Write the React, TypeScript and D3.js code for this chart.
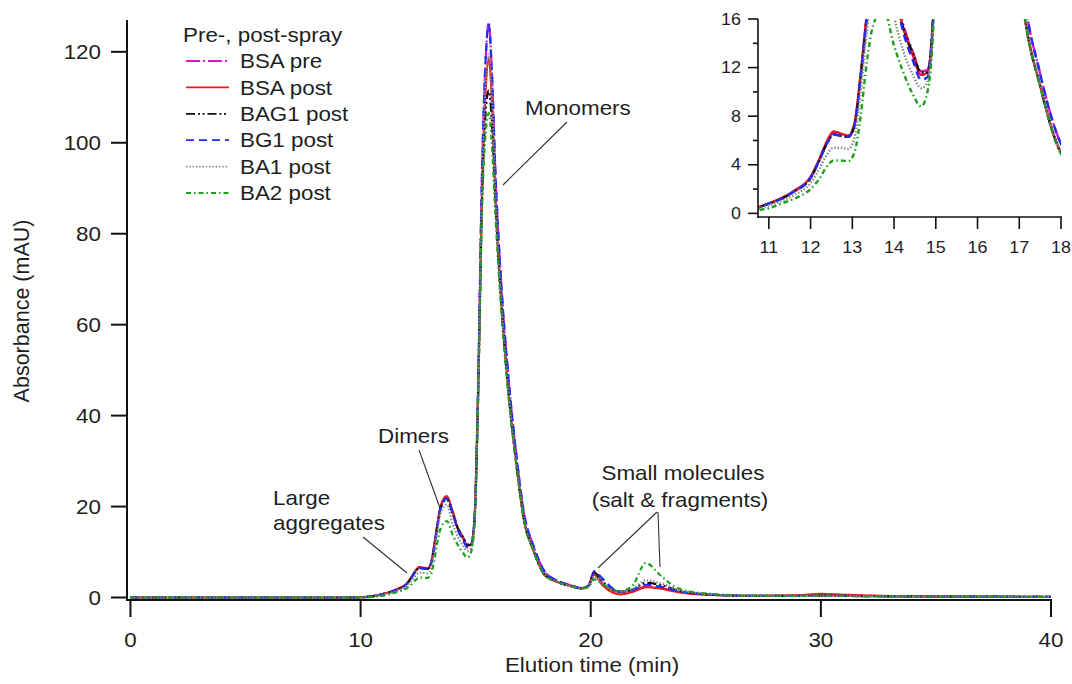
import React from "react";
import * as d3 from "d3";

// Elution time grid (min)
const time = [0, 5, 9, 10, 10.5, 10.8, 11, 11.3, 11.6, 12, 12.2, 12.4, 12.55, 12.7, 12.9, 13.05, 13.2, 13.35, 13.5, 13.75, 14.0, 14.2, 14.45, 14.65, 14.8, 14.95, 15.1, 15.27, 15.45, 15.57, 15.7, 15.87, 16.1, 16.45, 16.8, 17.1, 17.5, 18.0, 18.5, 19.0, 19.6, 19.9, 20.15, 20.5, 21.0, 21.3, 21.8, 22.4, 23.0, 23.8, 25.0, 27, 29, 30, 31, 33, 36, 40];

const bsaPre = [0, 0, 0, 0.05, 0.25, 0.55, 0.8, 1.2, 1.8, 2.95, 4.3, 5.9, 6.6, 6.5, 6.3, 7.3, 11.3, 16.3, 20.3, 22.0, 19.0, 15.8, 13.3, 11.7, 11.8, 17.5, 45, 92, 120, 126.5, 116, 92, 70, 47, 30, 18.5, 11.5, 5.7, 3.8, 2.9, 2.1, 2.6, 5.6, 3.2, 1.5, 1.2, 1.4, 2.4, 2.1, 1.3, 0.7, 0.35, 0.35, 0.45, 0.4, 0.25, 0.2, 0.15];
const bsaPost = [0, 0, 0, 0.05, 0.25, 0.55, 0.82, 1.25, 1.85, 3.0, 4.4, 6.0, 6.75, 6.6, 6.4, 7.4, 11.5, 16.5, 20.5, 22.3, 18.8, 15.5, 13.0, 11.4, 11.6, 17, 43, 87, 113, 118.5, 110, 87, 66, 44, 28, 17, 10.5, 5.0, 3.5, 2.7, 2.0, 2.6, 5.0, 2.8, 1.0, 0.7, 1.2, 2.3, 2.0, 1.2, 0.6, 0.35, 0.45, 0.8, 0.6, 0.3, 0.2, 0.15];
const bag1Post = [0, 0, 0, 0.05, 0.25, 0.55, 0.8, 1.2, 1.8, 2.9, 4.3, 5.8, 6.5, 6.4, 6.3, 7.2, 11.2, 16.2, 20.0, 21.5, 18.5, 15.5, 13.2, 11.6, 11.6, 17, 43, 86, 108, 111.5, 105, 86, 66, 44, 28, 17, 10.5, 5.0, 3.5, 2.7, 2.0, 2.5, 5.5, 3.6, 1.6, 1.3, 1.7, 3.2, 2.8, 1.5, 0.7, 0.35, 0.35, 0.4, 0.35, 0.25, 0.2, 0.15];
const bg1Post = [0, 0, 0, 0.05, 0.25, 0.55, 0.8, 1.2, 1.8, 2.95, 4.3, 5.8, 6.5, 6.4, 6.3, 7.2, 11.2, 16.2, 20.2, 21.8, 18.6, 15.2, 12.6, 11.0, 11.2, 17.3, 45, 92, 120, 126, 116, 92, 70, 47, 30, 18.5, 11.5, 5.7, 3.8, 2.9, 2.1, 2.5, 5.8, 4.2, 1.8, 1.3, 1.6, 2.8, 2.4, 1.4, 0.7, 0.35, 0.35, 0.4, 0.35, 0.25, 0.2, 0.15];
const ba1Post = [0, 0, 0, 0.04, 0.2, 0.45, 0.65, 1.0, 1.5, 2.5, 3.6, 4.9, 5.4, 5.4, 5.3, 6.2, 10.0, 15.0, 18.8, 20.4, 16.2, 13.6, 11.4, 10.3, 10.8, 16.5, 43, 88, 114, 119.5, 111, 87, 66, 44, 28, 17, 10.5, 5.0, 3.5, 2.7, 2.0, 2.4, 4.6, 3.2, 1.6, 1.3, 1.8, 3.8, 3.2, 1.7, 0.8, 0.35, 0.35, 0.4, 0.35, 0.25, 0.2, 0.15];
const ba2Post = [0, 0, 0, 0.03, 0.15, 0.3, 0.42, 0.8, 1.2, 2.0, 2.8, 3.9, 4.35, 4.35, 4.3, 5.0, 8.0, 12.5, 15.5, 16.8, 13.8, 11.8, 9.8, 8.8, 10.0, 16, 41, 84, 103, 106.5, 100, 83, 64, 43, 28, 17, 10.5, 4.9, 3.5, 2.7, 2.0, 2.3, 4.0, 3.0, 1.6, 1.4, 2.5, 7.6, 5.0, 2.0, 0.9, 0.4, 0.35, 0.4, 0.35, 0.25, 0.2, 0.15];

const seriesNames = ["BSA pre", "BSA post", "BAG1 post", "BG1 post", "BA1 post", "BA2 post"];
const seriesValues = [bsaPre, bsaPost, bag1Post, bg1Post, ba1Post, ba2Post];
const seriesColors = ["#d21cc4", "#f01818", "#111111", "#1f2cf5", "#8a8a8a", "#1e9e1e"];
const seriesDash = ["14 3 2 3", "", "9 3 2 2.5 2 3", "8 5", "1.5 1.8", "5 3 1.5 3"];

const mainXTicks = [0, 10, 20, 30, 40];
const mainYTicks = [0, 20, 40, 60, 80, 100, 120];
const insetXTicks = [11, 12, 13, 14, 15, 16, 17, 18];
const insetYTicks = [0, 4, 8, 12, 16];
const insetYMinor = [2, 6, 10, 14];

const FONT = "'Liberation Sans', Arial, sans-serif";
const SX = 1.12;
const TXT = "#1e1e1e";

function Txt({ x, y, size, anchor = "start", children }: any) {
  return (
    <text
      transform={`translate(${x},${y}) scale(${SX},1)`}
      fontSize={size}
      textAnchor={anchor}
      fontFamily={FONT}
      fill={TXT}
    >
      {children}
    </text>
  );
}

export default function App() {
  const x = d3.scaleLinear().domain([-0.15, 40]).range([127, 1051]);
  const y = d3.scaleLinear().domain([-0.55, 127]).range([600, 20]);
  const xi = d3.scaleLinear().domain([10.74, 18]).range([758, 1061]);
  const yi = d3.scaleLinear().domain([-0.3, 16]).range([217, 19]);

  const series = seriesNames.map((name, k) => ({
    name,
    color: seriesColors[k],
    dash: seriesDash[k],
    pts: time.map((t, i) => [t, seriesValues[k][i]] as [number, number]),
  }));

  const mainLine = d3
    .line<[number, number]>()
    .x((d) => x(d[0]))
    .y((d) => y(d[1]))
    .curve(d3.curveMonotoneX);
  const insetLine = d3
    .line<[number, number]>()
    .x((d) => xi(d[0]))
    .y((d) => yi(d[1]))
    .curve(d3.curveMonotoneX);

  const legendX0 = 186;
  const legendX1 = 229;
  const legendTop = 61;
  const legendStep = 26.4;

  return (
    <svg
      width={1072}
      height={684}
      style={{ position: "absolute", left: 0, top: 0, background: "#fff" }}
    >
      <defs>
        <clipPath id="insetClip">
          <rect x={758} y={yi(16)} width={1061 - 758} height={217 - yi(16)} />
        </clipPath>
      </defs>

      {/* main data */}
      <g fill="none">
        {series.map((s) => (
          <path
            key={s.name}
            d={mainLine(s.pts) || ""}
            stroke={s.color}
            strokeWidth={2.2}
            strokeDasharray={s.dash || undefined}
          />
        ))}
      </g>

      {/* main axes */}
      <g stroke="#111" strokeWidth={2} fill="none">
        <line x1={127} y1={20} x2={127} y2={601} />
        <line x1={126} y1={600} x2={1052} y2={600} />
        {mainYTicks.map((v) => (
          <line key={"yt" + v} x1={111} x2={127} y1={y(v)} y2={y(v)} />
        ))}
        {mainXTicks.map((v) => (
          <line key={"xt" + v} x1={x(v)} x2={x(v)} y1={600} y2={617} />
        ))}
      </g>
      {mainYTicks.map((v) => (
        <Txt key={"yl" + v} x={101} y={y(v) + 7.2} size={20} anchor="end">
          {v}
        </Txt>
      ))}
      {mainXTicks.map((v) => (
        <Txt key={"xl" + v} x={x(v)} y={647} size={20} anchor="middle">
          {v}
        </Txt>
      ))}
      <Txt x={592} y={672} size={20} anchor="middle">
        Elution time (min)
      </Txt>
      <text
        transform="translate(29,311) rotate(-90)"
        fontSize={21.5}
        textAnchor="middle"
        fontFamily={FONT}
        fill={TXT}
      >
        Absorbance (mAU)
      </text>

      {/* legend */}
      <Txt x={183} y={42} size={20}>
        Pre-, post-spray
      </Txt>
      {series.map((s, k) => {
        const cy = legendTop + k * legendStep;
        return (
          <g key={"lg" + s.name}>
            <line
              x1={legendX0}
              x2={legendX1}
              y1={cy}
              y2={cy}
              stroke={s.color}
              strokeWidth={1.8}
              strokeDasharray={s.dash || undefined}
            />
            <Txt x={240} y={cy + 7.2} size={20}>
              {s.name}
            </Txt>
          </g>
        );
      })}

      {/* annotations */}
      <g stroke="#333" strokeWidth={1.1}>
        <line x1={363} y1={537} x2={407} y2={573} />
        <line x1={419} y1={450} x2={440} y2={508} />
        <line x1={567} y1={122} x2={503} y2={185} />
        <line x1={657} y1={512} x2={598} y2={568} />
        <line x1={658} y1={512} x2={660} y2={567} />
      </g>
      <Txt x={273} y={505} size={20}>
        Large
      </Txt>
      <Txt x={273} y={530} size={20}>
        aggregates
      </Txt>
      <Txt x={378} y={443} size={20}>
        Dimers
      </Txt>
      <Txt x={525} y={115} size={20}>
        Monomers
      </Txt>
      <Txt x={683} y={480} size={20} anchor="middle">
        Small molecules
      </Txt>
      <Txt x={680} y={507} size={20} anchor="middle">
        (salt &amp; fragments)
      </Txt>

      {/* inset */}
      <g fill="none" clipPath="url(#insetClip)">
        {series.map((s) => (
          <path
            key={"in" + s.name}
            d={insetLine(s.pts) || ""}
            stroke={s.color}
            strokeWidth={2.4}
            strokeDasharray={s.dash || undefined}
          />
        ))}
      </g>
      <g stroke="#111" strokeWidth={1.6} fill="none">
        <line x1={758} y1={yi(16)} x2={758} y2={218} />
        <line x1={757} y1={217} x2={1062} y2={217} />
        {insetYTicks.map((v) => (
          <line key={"iyt" + v} x1={748} x2={758} y1={yi(v)} y2={yi(v)} />
        ))}
        {insetYMinor.map((v) => (
          <line key={"iym" + v} x1={753} x2={758} y1={yi(v)} y2={yi(v)} />
        ))}
        {insetXTicks.map((v) => (
          <line key={"ixt" + v} x1={xi(v)} x2={xi(v)} y1={217} y2={229} />
        ))}
      </g>
      {insetYTicks.map((v) => (
        <Txt key={"iyl" + v} x={741} y={yi(v) + 5.7} size={16} anchor="end">
          {v}
        </Txt>
      ))}
      {insetXTicks.map((v) => (
        <Txt key={"ixl" + v} x={xi(v)} y={253} size={16} anchor="middle">
          {v}
        </Txt>
      ))}
    </svg>
  );
}
